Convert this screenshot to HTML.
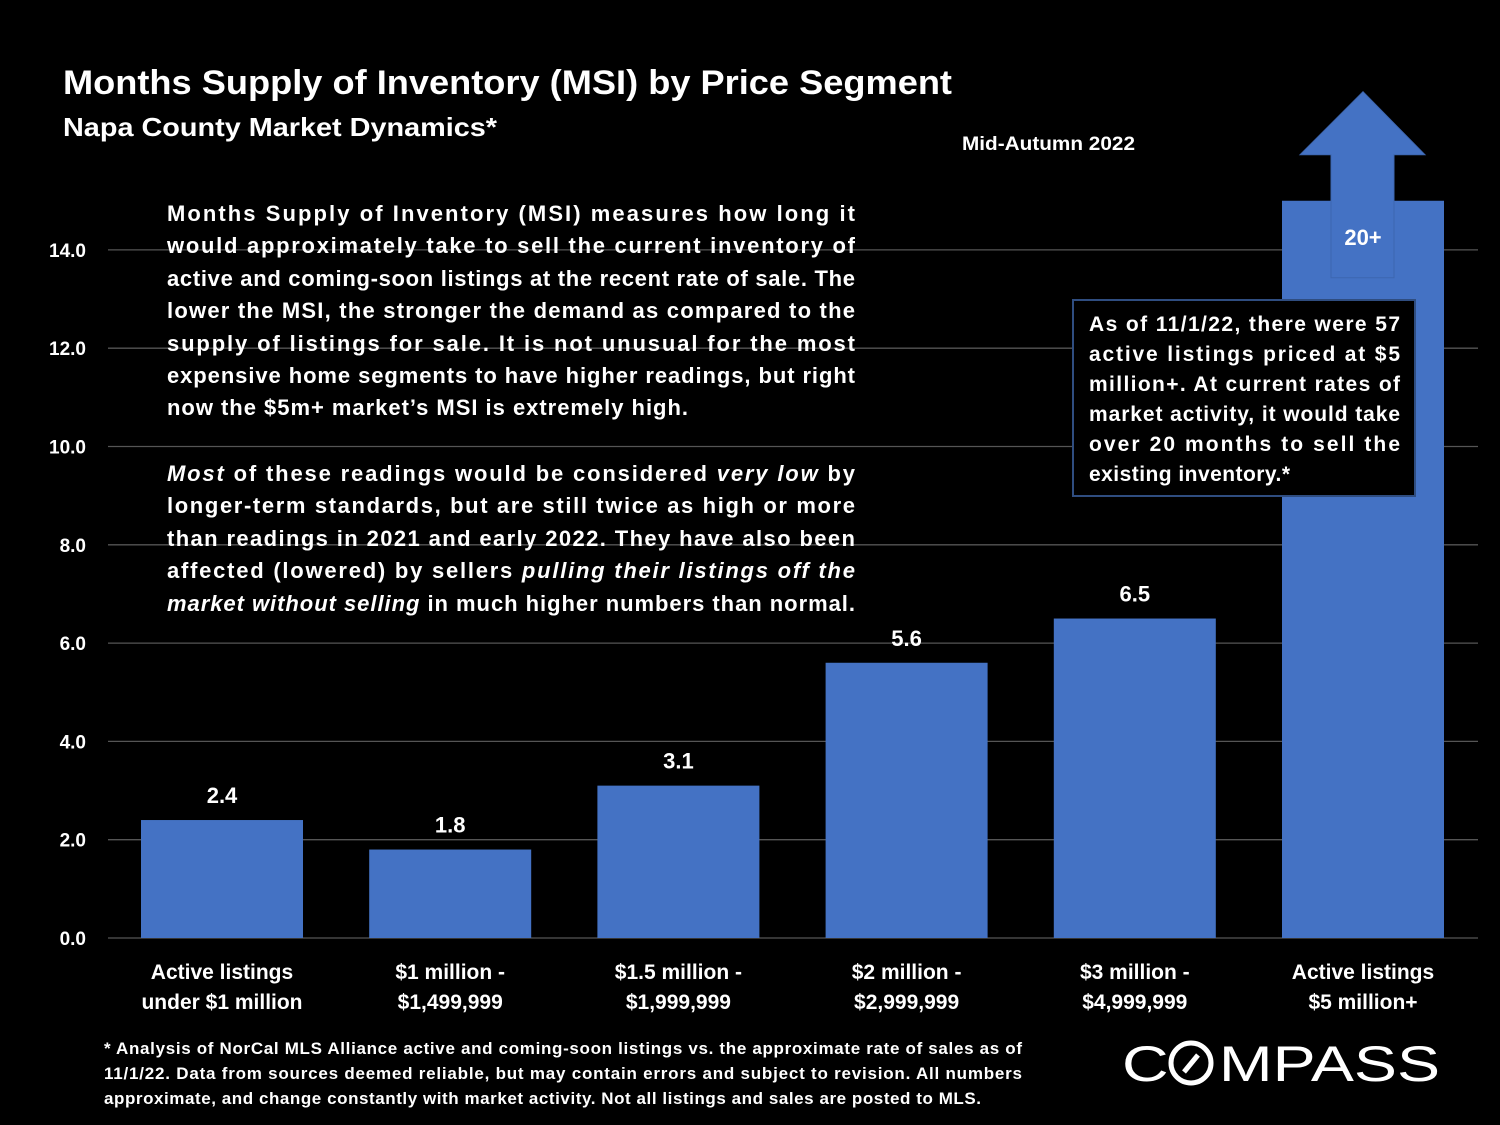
<!DOCTYPE html>
<html><head><meta charset="utf-8"><style>
html,body{margin:0;padding:0;background:#000;}
svg{display:block;font-family:"Liberation Sans",sans-serif;}
</style></head><body>
<svg id="chart" width="1500" height="1125" viewBox="0 0 1500 1125">
<rect width="1500" height="1125" fill="#000"/>
<text x="63" y="94" fill="#fff" font-size="34" font-weight="bold" textLength="889" lengthAdjust="spacingAndGlyphs">Months Supply of Inventory (MSI) by Price Segment</text>
<text x="63" y="136" fill="#fff" font-size="26" font-weight="bold" textLength="434" lengthAdjust="spacingAndGlyphs">Napa County Market Dynamics*</text>
<text x="962" y="150" fill="#fff" font-size="19" font-weight="bold" textLength="173" lengthAdjust="spacingAndGlyphs">Mid-Autumn 2022</text>
<g id="grid"></g>
<g id="yticks"></g>
<g id="bars"></g>
<g id="xlabels"></g>

<g fill="#fff" font-size="22" font-weight="bold">
<text x="167" y="221" textLength="688" lengthAdjust="spacing">Months Supply of Inventory (MSI) measures how long it</text>
<text x="167" y="253" textLength="688" lengthAdjust="spacing">would approximately take to sell the current inventory of</text>
<text x="167" y="286" textLength="688" lengthAdjust="spacing">active and coming-soon listings at the recent rate of sale. The</text>
<text x="167" y="318" textLength="688" lengthAdjust="spacing">lower the MSI, the stronger the demand as compared to the</text>
<text x="167" y="351" textLength="688" lengthAdjust="spacing">supply of listings for sale. It is not unusual for the most</text>
<text x="167" y="383" textLength="688" lengthAdjust="spacing">expensive home segments to have higher readings, but right</text>
<text x="167" y="415" textLength="521" lengthAdjust="spacing">now the $5m+ market’s MSI is extremely high.</text>
<text x="167" y="481" textLength="688" lengthAdjust="spacing"><tspan font-style="italic">Most</tspan> of these readings would be considered <tspan font-style="italic">very low</tspan> by</text>
<text x="167" y="513" textLength="688" lengthAdjust="spacing">longer-term standards, but are still twice as high or more</text>
<text x="167" y="546" textLength="688" lengthAdjust="spacing">than readings in 2021 and early 2022. They have also been</text>
<text x="167" y="578" textLength="688" lengthAdjust="spacing">affected (lowered) by sellers <tspan font-style="italic">pulling their listings off the</tspan></text>
<text x="167" y="611" textLength="688" lengthAdjust="spacing"><tspan font-style="italic">market without selling</tspan> in much higher numbers than normal.</text>
</g>

<g>
<rect x="1073" y="300" width="342" height="196" fill="#000" stroke="#2f4d80" stroke-width="2"/>
<g fill="#fff" font-size="21" font-weight="bold">
<text x="1089" y="331" textLength="311" lengthAdjust="spacing">As of 11/1/22, there were 57</text>
<text x="1089" y="361" textLength="311" lengthAdjust="spacing">active listings priced at $5</text>
<text x="1089" y="391" textLength="311" lengthAdjust="spacing">million+. At current rates of</text>
<text x="1089" y="421" textLength="311" lengthAdjust="spacing">market activity, it would take</text>
<text x="1089" y="451" textLength="311" lengthAdjust="spacing">over 20 months to sell the</text>
<text x="1089" y="481" textLength="201" lengthAdjust="spacing">existing inventory.*</text>
</g></g>

<g fill="#fff" font-size="17" font-weight="bold">
<text x="104" y="1054" textLength="918" lengthAdjust="spacing">* Analysis of NorCal MLS Alliance active and coming-soon listings vs. the approximate rate of sales as of</text>
<text x="104" y="1079" textLength="918" lengthAdjust="spacing">11/1/22. Data from sources deemed reliable, but may contain errors and subject to revision. All numbers</text>
<text x="104" y="1104" textLength="877" lengthAdjust="spacing">approximate, and change constantly with market activity. Not all listings and sales are posted to MLS.</text>
</g>

<g>
<text x="1122" y="1081" fill="#fff" font-size="50" textLength="318" lengthAdjust="spacingAndGlyphs">C<tspan fill="#000">O</tspan>MPASS</text>
<circle cx="1191" cy="1063" r="20" fill="none" stroke="#fff" stroke-width="5"/>
<line x1="1184" y1="1072" x2="1198" y2="1055" stroke="#fff" stroke-width="5"/>
</g>

<script>
const categories = [["Active listings","under $1 million"],["$1 million -","$1,499,999"],["$1.5 million -","$1,999,999"],["$2 million -","$2,999,999"],["$3 million -","$4,999,999"],["Active listings","$5 million+"]];
const values = [2.4, 1.8, 3.1, 5.6, 6.5, 15];
const valueLabels = ["2.4","1.8","3.1","5.6","6.5","20+"];
const yTicks = [0, 2, 4, 6, 8, 10, 12, 14];
const yTickLabels = ["0.0","2.0","4.0","6.0","8.0","10.0","12.0","14.0"];

const NS = "http://www.w3.org/2000/svg";
const y0 = 938, pxPerUnit = 49.15;
function yScale(v){ return y0 - v * pxPerUnit; }
function xScale(i){ return 222 + i * 228.2; }
const barW = 162;
function mk(tag, attrs, parent){ const e = document.createElementNS(NS, tag); for (const k in attrs) e.setAttribute(k, attrs[k]); parent.appendChild(e); return e; }

const grid = document.getElementById('grid'), yt = document.getElementById('yticks');
yTicks.forEach((t, i) => {
  const ln = mk('line', {x1:108, x2:1478, y1:yScale(t), y2:yScale(t), stroke:'#555', 'stroke-width':1.3}, grid);
  
  
  const tx = mk('text', {x:86, y:yScale(t)+7, fill:'#fff', 'font-size':19, 'font-weight':'bold', 'text-anchor':'end'}, yt);
  tx.textContent = yTickLabels[i];
  
  
});

const bars = document.getElementById('bars'), xl = document.getElementById('xlabels');
values.forEach((v, i) => {
  const cx = xScale(i);
  const r = mk('rect', {x:cx-barW/2, y:yScale(v), width:barW, height:y0-yScale(v), fill:'#4472c4'}, bars);
  
  
  if (i === values.length - 1) {
    const top = yScale(v);
    const ar = mk('polygon', {points:`${cx-32},${top+77} ${cx-32},${top-46} ${cx-63},${top-46} ${cx},${top-109} ${cx+62},${top-46} ${cx+31},${top-46} ${cx+31},${top+77}`, fill:'#4472c4', stroke:'#3d66b0', 'stroke-width':1}, bars);
    
    
    const lb = mk('text', {x:cx, y:top+44, fill:'#fff', 'font-size':22, 'font-weight':'bold', 'text-anchor':'middle'}, bars);
    lb.textContent = valueLabels[i];
    
    
  } else {
    const lb = mk('text', {x:cx, y:yScale(v)-17, fill:'#fff', 'font-size':22, 'font-weight':'bold', 'text-anchor':'middle'}, bars);
    lb.textContent = valueLabels[i];
    
    
  }
  categories[i].forEach((line, j) => {
    const t = mk('text', {x:cx, y:979+j*30, fill:'#fff', 'font-size':21, 'font-weight':'bold', 'text-anchor':'middle'}, xl);
    t.textContent = line;
    
    
  });
});
</script>
</svg>
</body></html>
